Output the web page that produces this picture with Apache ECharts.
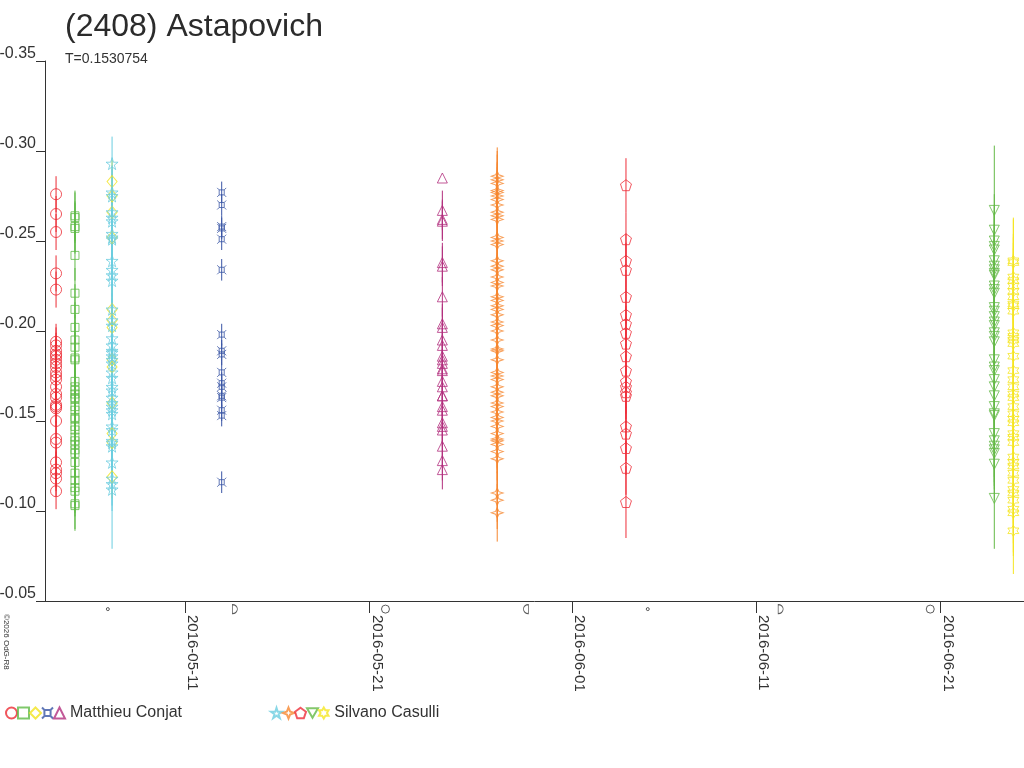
<!DOCTYPE html>
<html>
<head>
<meta charset="utf-8">
<script src="https://cdn.jsdelivr.net/npm/echarts@6/dist/echarts.min.js"></script>
<style>
  html, body { margin: 0; padding: 0; background: #fff; }
  #main { width: 1024px; height: 768px; }
</style>
</head>
<body>
<div id="main"></div>
<script>
// lightcurve of (2408) Astapovich, two observers, ten sessions
const observers = ['Matthieu Conjat', 'Silvano Casulli'];

// session start (UTC), observer index
const sessionDates = [
  '2016-05-04T00:00', '2016-05-05T00:40', '2016-05-07T01:00', '2016-05-12T23:50', '2016-05-24T23:20',
  '2016-05-07T01:00', '2016-05-27T22:50', '2016-06-03T22:35', '2016-06-23T22:30', '2016-06-24T23:20'
];
const sessionObserver = [0, 0, 0, 0, 0, 1, 1, 1, 1, 1];
const sessionErr = [0.010, 0.014, 0.012, 0.006, 0.011, 0.015, 0.016, 0.015, 0.020, 0.024];

// reduced magnitudes per session
const magA = [-0.276, -0.265, -0.255, -0.232, -0.223, -0.194, -0.192, -0.189, -0.187, -0.186, -0.184, -0.182,
  -0.180, -0.177, -0.175, -0.173, -0.169, -0.165, -0.163, -0.159, -0.158, -0.157, -0.150, -0.140, -0.138,
  -0.127, -0.123, -0.121, -0.118, -0.111];
const magB = [-0.264, -0.263, -0.258, -0.257, -0.242, -0.221, -0.212, -0.202, -0.195, -0.191, -0.185, -0.184,
  -0.172, -0.169, -0.167, -0.165, -0.163, -0.162, -0.158, -0.156, -0.152, -0.151, -0.147, -0.145, -0.141,
  -0.139, -0.137, -0.134, -0.132, -0.127, -0.121, -0.117, -0.113, -0.111, -0.104, -0.103];
const magC = [-0.283, -0.275, -0.266, -0.252, -0.212, -0.206, -0.202, -0.184, -0.180, -0.160, -0.143, -0.138, -0.119];
const magD = [-0.277, -0.270, -0.258, -0.257, -0.251, -0.234, -0.198, -0.189, -0.187, -0.177, -0.171, -0.169,
  -0.164, -0.163, -0.156, -0.153, -0.116];
const magE = [-0.285, -0.267, -0.262, -0.261, -0.238, -0.236, -0.219, -0.204, -0.202, -0.195, -0.192, -0.186,
  -0.184, -0.182, -0.179, -0.178, -0.172, -0.169, -0.164, -0.164, -0.158, -0.156, -0.149, -0.147, -0.145,
  -0.136, -0.128, -0.123];
const magF = [-0.293, -0.277, -0.275, -0.266, -0.263, -0.261, -0.254, -0.252, -0.251, -0.239, -0.234, -0.231,
  -0.228, -0.212, -0.206, -0.203, -0.196, -0.192, -0.189, -0.188, -0.186, -0.184, -0.182, -0.177, -0.174,
  -0.169, -0.167, -0.163, -0.160, -0.158, -0.156, -0.154, -0.147, -0.145, -0.139, -0.138, -0.136, -0.127,
  -0.118, -0.115, -0.112];
const magG = [-0.286, -0.284, -0.282, -0.278, -0.277, -0.275, -0.273, -0.270, -0.266, -0.264, -0.262, -0.252,
  -0.250, -0.248, -0.239, -0.236, -0.234, -0.230, -0.227, -0.225, -0.219, -0.217, -0.214, -0.212, -0.209,
  -0.205, -0.203, -0.200, -0.195, -0.190, -0.189, -0.184, -0.177, -0.175, -0.173, -0.169, -0.166, -0.164,
  -0.160, -0.158, -0.155, -0.152, -0.150, -0.147, -0.143, -0.140, -0.139, -0.137, -0.133, -0.129, -0.110,
  -0.106, -0.099];
const magH = [-0.281, -0.251, -0.239, -0.234, -0.219, -0.209, -0.204, -0.199, -0.193, -0.186, -0.178, -0.172,
  -0.169, -0.166, -0.164, -0.147, -0.143, -0.135, -0.124, -0.105];
const magI = [-0.267, -0.256, -0.250, -0.247, -0.245, -0.239, -0.236, -0.234, -0.232, -0.231, -0.225, -0.223,
  -0.221, -0.213, -0.211, -0.208, -0.205, -0.203, -0.199, -0.197, -0.194, -0.184, -0.180, -0.178, -0.173,
  -0.169, -0.164, -0.158, -0.154, -0.153, -0.143, -0.139, -0.136, -0.134, -0.132, -0.126, -0.107];
const magJ = [-0.239, -0.238, -0.230, -0.228, -0.225, -0.222, -0.219, -0.215, -0.214, -0.211, -0.199, -0.197,
  -0.195, -0.193, -0.186, -0.178, -0.173, -0.169, -0.165, -0.163, -0.158, -0.154, -0.151, -0.149, -0.143,
  -0.141, -0.138, -0.130, -0.127, -0.125, -0.121, -0.117, -0.112, -0.110, -0.106, -0.101, -0.099, -0.089];
const sessionMags = [magA, magB, magC, magD, magE, magF, magG, magH, magI, magJ];

// points whose error bar differs from the session's usual one: [session, point, err]
const errOverrides = [[4, 0, 0], [5, 40, 0.033], [7, 19, 0.020], [8, 0, 0.036], [8, 36, 0.028]];

// axis ticks and moon phases
const dateTicks = ['2016-05-11', '2016-05-21', '2016-06-01', '2016-06-11', '2016-06-21'];
const moonDates = ['2016-05-06T19:29', '2016-05-13T17:02', '2016-05-21T21:14', '2016-05-29T12:12',
  '2016-06-05T03:00', '2016-06-12T08:10', '2016-06-20T11:02'];
const moonPhases = ['new', 'first', 'full', 'last', 'new', 'first', 'full'];
const moonLevel = -0.0455;

const colors = ['#ec2a33', '#5fba46', '#f2e41e', '#3a56a5', '#b3307e',
  '#6bcde0', '#f6872f', '#ee2e3a', '#64b947', '#f5e620'];
const symbols = [
  'circle', 'rect', 'diamond',
  'path://M0,0 L22,22 L78,22 L100,0 M78,22 L78,78 L100,100 M78,78 L22,78 L0,100 M22,78 L22,22',
  'triangle',
  'path://M50,0 L61,35 L98,35 L68,57 L79,91 L50,70 L21,91 L32,57 L2,35 L39,35 Z',
  'path://M50,0 L64,36 L100,50 L64,64 L50,100 L36,64 L0,50 L36,36 Z',
  'path://M50,0 L98,35 L79,91 L21,91 L2,35 Z',
  'path://M0,0 L100,0 L50,87 Z',
  'path://M50,0 L64.4,25 L93.3,25 L78.9,50 L93.3,75 L64.4,75 L50,100 L35.6,75 L6.7,75 L21.1,50 L6.7,25 L35.6,25 Z'
];
const symbolSizes = [11, 8, [10, 12], 9, 10, 12, [12, 10], 11, 10, 11];
const moonSymbols = {
  new: 'circle',
  first: 'path://M0,0 A50,50 0 0 1 0,100 Z',
  full: 'circle',
  last: 'path://M50,0 A50,50 0 0 0 50,100 Z'
};
const moonSizes = { new: 3, first: [5, 9], full: 8, last: [5, 9] };

const font = 'Liberation Sans, Arial, sans-serif';
const utc = s => Date.parse(s + 'Z');
const seriesName = i => observers[sessionObserver[i]] + ' #' + (i + 1);
const tickValues = dateTicks.map(d => utc(d + 'T00:00'));

const chart = echarts.init(document.getElementById('main'));

const series = [];
sessionMags.forEach(function (mags, i) {
  const t = utc(sessionDates[i]);
  const pts = mags.map(function (m, j) {
    let e = sessionErr[i];
    errOverrides.forEach(function (o) { if (o[0] === i && o[1] === j) e = o[2]; });
    return [t, m, e];
  });
  const col = colors[i];
  series.push({
    name: 'err' + i,
    type: 'custom',
    silent: true,
    z: 1,
    data: pts,
    encode: { x: 0, y: 1 },
    renderItem: function (params, api) {
      const e = api.value(2);
      if (!e) return null;
      const p1 = api.coord([api.value(0), api.value(1) - e]);
      const p2 = api.coord([api.value(0), api.value(1) + e]);
      return {
        type: 'line',
        shape: { x1: p1[0], y1: p1[1], x2: p2[0], y2: p2[1] },
        style: { stroke: col, lineWidth: 1 }
      };
    }
  });
  series.push({
    name: seriesName(i),
    type: 'scatter',
    z: 3,
    symbol: symbols[i],
    symbolSize: symbolSizes[i],
    itemStyle: { color: 'rgba(255,255,255,0)', borderColor: col, borderWidth: 1 },
    data: pts.map(p => [p[0], p[1]])
  });
});

// moon phase marks just under the time axis
series.push({
  name: 'moon',
  type: 'scatter',
  clip: false,
  silent: true,
  z: 4,
  itemStyle: { color: 'rgba(255,255,255,0)', borderColor: '#333', borderWidth: 1 },
  data: moonDates.map(function (d, i) {
    return {
      value: [utc(d), moonLevel],
      symbol: moonSymbols[moonPhases[i]],
      symbolSize: moonSizes[moonPhases[i]]
    };
  })
});

function legendFor(obs, left) {
  const names = [];
  sessionObserver.forEach(function (o, i) { if (o === obs) names.push(seriesName(i)); });
  return {
    left: left,
    top: 705,
    padding: 0,
    orient: 'horizontal',
    itemGap: -1,
    itemWidth: 11,
    itemHeight: 11,
    selectedMode: false,
    data: names,
    formatter: function (name) { return name === names[names.length - 1] ? observers[obs] : ''; },
    textStyle: { fontFamily: font, fontSize: 16, color: '#333' }
  };
}

chart.setOption({
  backgroundColor: '#fff',
  animation: false,
  title: {
    text: '(2408) Astapovich',
    subtext: 'T=0.1530754',
    left: 60,
    top: 6,
    itemGap: 9,
    textStyle: { fontFamily: font, fontSize: 32, fontWeight: 'normal', color: '#2b2b2b' },
    subtextStyle: { fontFamily: font, fontSize: 14, color: '#333' }
  },
  legend: [legendFor(0, 5), legendFor(1, 270)],
  grid: { left: 45, right: 0, top: 61, bottom: 167, outerBoundsMode: 'none', containLabel: false },
  xAxis: {
    type: 'value',
    scale: true,
    min: utc('2016-05-03T09:36'),
    max: utc('2016-06-25T13:12'),
    axisLine: { onZero: false, lineStyle: { color: '#333', width: 1 } },
    axisTick: {
      length: 12,
      lineStyle: { color: '#333' },
      customValues: tickValues
    },
    axisLabel: {
      customValues: tickValues,
      rotate: -90,
      margin: 14,
      align: 'left',
      verticalAlign: 'bottom',
      fontFamily: font,
      fontSize: 15,
      color: '#333',
      formatter: function (v) { return new Date(v).toISOString().slice(0, 10); }
    },
    splitLine: { show: false }
  },
  yAxis: {
    type: 'value',
    inverse: true,
    min: -0.35,
    max: -0.05,
    interval: 0.05,
    axisLine: { show: true, onZero: false, lineStyle: { color: '#333', width: 1 } },
    axisTick: { show: true, length: 9, lineStyle: { color: '#333' } },
    axisLabel: {
      margin: 9,
      verticalAlign: 'bottom',
      lineHeight: 14,
      fontFamily: font,
      fontSize: 16,
      color: '#333',
      showMinLabel: true,
      showMaxLabel: true,
      formatter: function (v) { return v.toFixed(2); }
    },
    splitLine: { show: false }
  },
  graphic: [{
    type: 'text',
    x: 10,
    y: 614,
    rotation: -Math.PI / 2,
    style: { text: '\u00a92026 OdG-R8', fontFamily: font, fontSize: 8, fill: '#333', align: 'left', verticalAlign: 'top' }
  }],
  series: series
});
</script>
</body>
</html>
